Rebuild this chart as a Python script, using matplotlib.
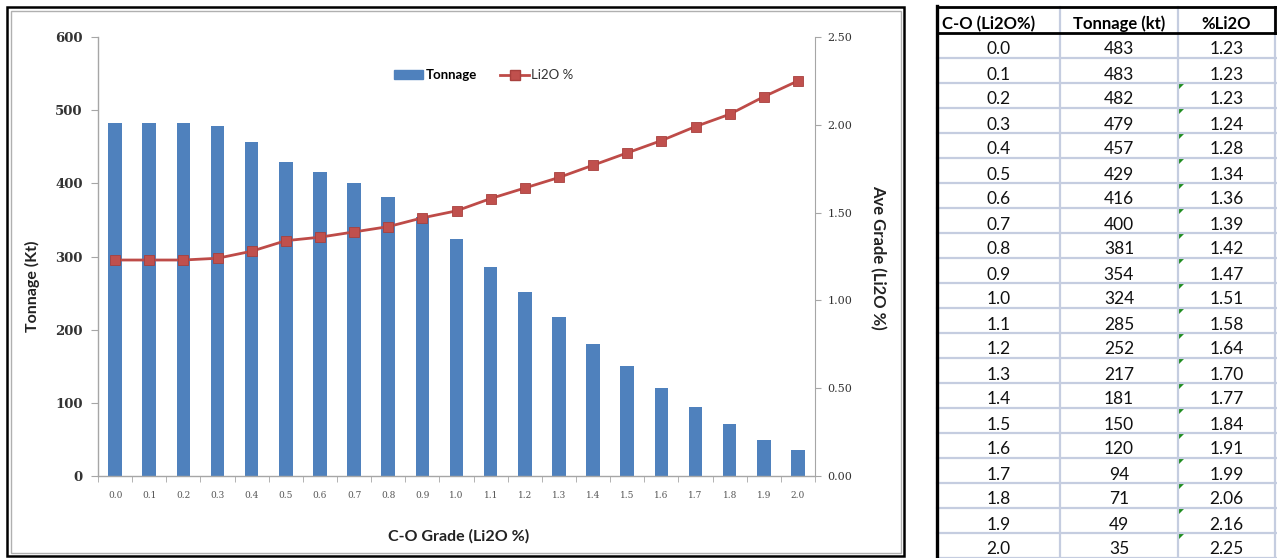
import numpy as np
import matplotlib
matplotlib.use("Agg")
import matplotlib.pyplot as plt
from matplotlib.patches import Rectangle, Polygon
from matplotlib.lines import Line2D
from matplotlib.patches import Patch

grades = ['0.0', '0.1', '0.2', '0.3', '0.4', '0.5', '0.6', '0.7', '0.8', '0.9', '1.0',
          '1.1', '1.2', '1.3', '1.4', '1.5', '1.6', '1.7', '1.8', '1.9', '2.0']
tonnage = [483, 483, 482, 479, 457, 429, 416, 400, 381, 354, 324,
           285, 252, 217, 181, 150, 120, 94, 71, 49, 35]
li2o = [1.23, 1.23, 1.23, 1.24, 1.28, 1.34, 1.36, 1.39, 1.42, 1.47, 1.51,
        1.58, 1.64, 1.70, 1.77, 1.84, 1.91, 1.99, 2.06, 2.16, 2.25]
flagged = [False, False] + [True] * 19   # excel green corner marks
headers = ['C-O (Li2O%)', 'Tonnage (kt)', '%Li2O']

W, H = 1277, 558
SANS = ['Lato', 'DejaVu Sans']
SERIF = ['DejaVu Serif']
blue = '#4f81bd'
red = '#be4b48'
grey = '#a6a6a6'

fig = plt.figure(figsize=(W / 100, H / 100), dpi=100)

# overlay in pixel coords for frame + table
ov = fig.add_axes([0, 0, 1, 1], zorder=0)
ov.set_xlim(0, W)
ov.set_ylim(H, 0)
ov.axis('off')

# chart frame (double line)
ov.add_patch(Rectangle((7, 7), 897, 549, fill=False, ec='black', lw=1.8))
ov.add_patch(Rectangle((10.5, 10.5), 890, 542, fill=False, ec='#b0b0b0', lw=1))

# ---- table ----
col_edges = [937, 1060, 1178, 1275]
head_top, head_bot, row_h = 7, 33, 25
gridc = '#c5cde0'
n = len(grades)
for i in range(n):
    yb = head_bot + row_h * (i + 1)
    ov.plot([col_edges[0], W], [yb, yb], color=gridc, lw=1.6)
for x in col_edges[1:]:
    ov.plot([x, x], [head_top, H], color=gridc, lw=1.6)
ov.plot([col_edges[-1], col_edges[-1]], [head_top, head_bot], color='black', lw=2)
ov.plot([col_edges[0], col_edges[0]], [head_top - 1, H], color='black', lw=2.4)
ov.plot([col_edges[0], col_edges[-1] + 1], [head_top, head_top], color='black', lw=2)
ov.plot([col_edges[0], col_edges[-1] + 1], [head_bot, head_bot], color='black', lw=2)

ov.text(col_edges[0] + 5, head_bot - 4, headers[0], ha='left', va='baseline',
        fontsize=12, fontweight='bold', family=SANS)
for j in (1, 2):
    cx = (col_edges[j] + col_edges[j + 1]) / 2
    ov.text(cx, head_bot - 4, headers[j], ha='center', va='baseline',
            fontsize=12, fontweight='bold', family=SANS)

for i in range(n):
    yb = head_bot + row_h * (i + 1) - 3.5
    vals = [grades[i], str(tonnage[i]), f'{li2o[i]:.2f}']
    for j in range(3):
        cx = (col_edges[j] + col_edges[j + 1]) / 2
        ov.text(cx, yb, vals[j], ha='center', va='baseline',
                fontsize=12.5, family=SANS, color='#111111')
    if flagged[i]:
        x0 = col_edges[2] + 1
        y0 = head_bot + row_h * i + 1
        ov.add_patch(Polygon([[x0, y0], [x0 + 5, y0], [x0, y0 + 5]],
                             closed=True, color='#1e8c1e', lw=0))

# ---- chart ----
ax = fig.add_axes([98 / W, 1 - 476 / H, (815 - 98) / W, (476 - 37) / H], zorder=2)
ax.patch.set_alpha(0)
x = np.arange(n)
ax.bar(x, tonnage, width=0.4, color=blue, zorder=2)
ax.set_xlim(-0.5, n - 0.5)
ax.set_ylim(0, 600)
ax.set_yticks(range(0, 601, 100))
ax.set_xticks(x)
ax.set_xticklabels(grades, family=SERIF, fontsize=6.5, color='#555555')
ax.set_xticks(np.arange(-0.5, n, 1), minor=True)
ax.tick_params(axis='x', which='major', length=0, pad=11)
ax.tick_params(axis='x', which='minor', length=4, color=grey, direction='out')
ax.tick_params(axis='y', length=5, color=grey, direction='out', pad=6)
for lab in ax.get_yticklabels():
    lab.set_family(SERIF)
    lab.set_fontsize(9.5)
    lab.set_fontweight('bold')
    lab.set_color('#333333')
for s in ('top', 'right'):
    ax.spines[s].set_visible(False)
for s in ('left', 'bottom'):
    ax.spines[s].set_color(grey)
    ax.spines[s].set_linewidth(1)

ax2 = ax.twinx()
ax2.plot(x, li2o, color=red, lw=2, marker='s', markersize=7.5,
         markerfacecolor='#c0504d', markeredgecolor='#a8403d', markeredgewidth=0.6, zorder=3)
ax2.set_ylim(0, 2.5)
ax2.set_yticks(np.arange(0, 2.51, 0.5))
ax2.set_yticklabels([f'{v:.2f}' for v in np.arange(0, 2.51, 0.5)])
ax2.tick_params(axis='y', length=4, color=grey, direction='out', pad=5)
for lab in ax2.get_yticklabels():
    lab.set_family(SERIF)
    lab.set_fontsize(8)
    lab.set_color('#333333')
for s in ('top', 'left', 'bottom'):
    ax2.spines[s].set_visible(False)
ax2.spines['right'].set_color(grey)

fig.text(32 / W, 1 - 286 / H, 'Tonnage (Kt)', rotation=90, ha='center', va='center',
         fontsize=11.5, fontweight='bold', family=SANS, color='#222222')
fig.text(878 / W, 1 - 257 / H, 'Ave Grade (Li2O %)', rotation=-90, ha='center', va='center',
         fontsize=12, fontweight='bold', family=SANS, color='#222222')
fig.text(459 / W, 1 - 536 / H, 'C-O Grade (Li2O %)', ha='center', va='center',
         fontsize=11.5, fontweight='bold', family=SANS, color='#222222')

handles = [Patch(color=blue),
           Line2D([], [], color=red, lw=2, marker='s', markersize=7,
                  markerfacecolor='#c0504d', markeredgecolor='#a8403d')]
leg = fig.legend(handles, ['Tonnage', 'Li2O %'], loc='center',
                 bbox_to_anchor=(484 / W, 1 - 75 / H), ncol=2, frameon=False,
                 prop={'family': SANS, 'size': 9.5}, handlelength=2.2,
                 handletextpad=0.15, columnspacing=1.8, handleheight=0.6)
leg.get_texts()[0].set_fontweight('bold')
leg.get_texts()[1].set_color('#333333')

fig.savefig('out.png', dpi=100)
